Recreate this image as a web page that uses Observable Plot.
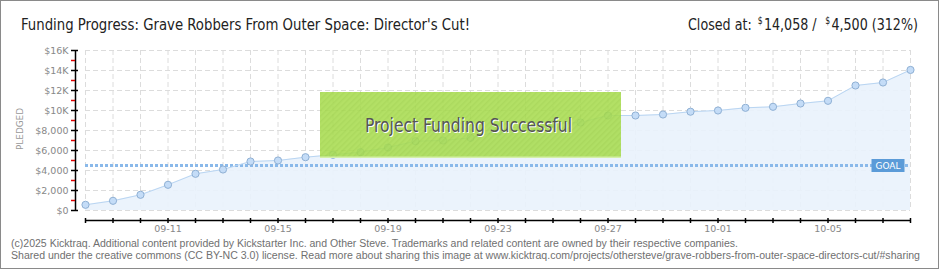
<!DOCTYPE html>
<html>
<head>
<meta charset="utf-8">
<script src="https://cdn.jsdelivr.net/npm/d3@7"></script>
<script src="https://cdn.jsdelivr.net/npm/@observablehq/plot@0.6"></script>
<style>
  html, body { margin: 0; padding: 0; background: #fff; }
  #wrap { position: relative; width: 940px; height: 270px; overflow: hidden; background: #fff; }
  #wrap > svg { position: absolute; left: 0; top: 0; }
  #frame { position: absolute; left: 0; top: 0; width: 937px; height: 267px; border: 1px solid #8a8a8a; pointer-events: none; }
</style>
</head>
<body>
<div id="wrap"><div id="frame"></div></div>
<script>
// ---- data ----
const days = ["09-08","09-09","09-10","09-11","09-12","09-13","09-14","09-15","09-16","09-17",
  "09-18","09-19","09-20","09-21","09-22","09-23","09-24","09-25","09-26","09-27",
  "09-28","09-29","09-30","10-01","10-02","10-03","10-04","10-05","10-06","10-07","10-08"];
const pledged = [570, 970, 1570, 2570, 3670, 4100, 4900, 5000, 5330, 5570,
  5830, 6300, 6930, 7000, 7270, 7900, 8600, 8700, 8800, 9500,
  9500, 9600, 9880, 10000, 10270, 10370, 10700, 10970, 12500, 12800, 14058];
const goal = 4500;
const xTickLabels = ["09-11","09-15","09-19","09-23","09-27","10-01","10-05"];
const yTicks = [0, 2000, 4000, 6000, 8000, 10000, 12000, 14000, 16000];
const yTickLabels = ["$0","$2,000","$4,000","$6,000","$8,000","$10K","$12K","$14K","$16K"];
const yMinorTicks = [1000, 3000, 5000, 7000, 9000, 11000, 13000, 15000];
const title = "Funding Progress: Grave Robbers From Outer Space: Director's Cut!";
const headerParts = ["Closed at:", "$", "14,058 /", "$", "4,500 (312%)"];
const footer1 = "(c)2025 Kicktraq. Additional content provided by Kickstarter Inc. and Other Steve. Trademarks and related content are owned by their respective companies.";
const footer2 = "Shared under the creative commons (CC BY-NC 3.0) license. Read more about sharing this image at www.kicktraq.com/projects/othersteve/grave-robbers-from-outer-space-directors-cut/#sharing";

// ---- build ----
const parse = s => new Date(Date.UTC(2025, +s.slice(0,2) - 1, +s.slice(3,5)));
const fmt = d3.utcFormat("%m-%d");
const rows = days.map((d, i) => ({date: parse(d), value: pledged[i]}));
const d0 = rows[0].date, dEnd = rows[rows.length - 1].date;
const yLabelMap = new Map(yTicks.map((v, i) => [v, yTickLabels[i]]));
const xLabelSet = new Set(xTickLabels);
const goalBox = { draw(ctx) { ctx.rect(-16.5, -6.5, 33, 13); } };
const tickFont = "DejaVu Sans, sans-serif";

const chart = Plot.plot({
  width: 940, height: 270,
  marginTop: 50, marginBottom: 60, marginLeft: 85, marginRight: 30,
  x: {type: "utc", domain: [d0, dEnd]},
  y: {domain: [0, 16000]},
  style: {background: "transparent", fontFamily: tickFont},
  marks: [
    Plot.gridY({ticks: yTicks, stroke: "#dcdcdc", strokeOpacity: 1, strokeDasharray: "5,3"}),
    Plot.gridX({ticks: rows.map(r => r.date), stroke: "#dcdcdc", strokeOpacity: 1, strokeDasharray: "5,3"}),
    Plot.areaY(rows, {x: "date", y: "value", fill: "#e9f2fc", fillOpacity: 0.9}),
    Plot.ruleY([goal], {stroke: "#8ab9ea", strokeWidth: 3, strokeDasharray: "3,2"}),
    Plot.line(rows, {x: "date", y: "value", stroke: "#b9d5f2", strokeWidth: 1}),
    Plot.dot(rows, {x: "date", y: "value", r: 3.6, fill: "#c4dcf7", stroke: "#8fb0d4", strokeWidth: 1}),
    Plot.dot([{x: dEnd, y: goal}], {x: "x", y: "y", symbol: goalBox, fill: "#5b9bd8", stroke: "none", dx: -22.5}),
    Plot.text([{x: dEnd, y: goal}], {x: "x", y: "y", text: () => "GOAL", dx: -22.5, dy: 0.5, fill: "#fff", fontSize: 9, fontFamily: tickFont}),
    // axes
    Plot.ruleY([0], {dy: 10, stroke: "#000", strokeWidth: 1.5}),
    Plot.ruleX([d0], {y1: 0, y2: 16000, dx: -10, stroke: "#000", strokeWidth: 1.5}),
    Plot.axisY({ticks: yMinorTicks, tickSize: 4, dx: -10, stroke: "#e00000", strokeWidth: 1.5,
      tickFormat: () => "", label: null}),
    Plot.axisY({ticks: yTicks, tickSize: 7, dx: -7, tickPadding: 3, stroke: "#000", strokeWidth: 1.5,
      fill: "#888", fontSize: 9.5, tickFormat: d => yLabelMap.get(d), label: null}),
    Plot.axisX({ticks: rows.map(r => r.date), tickSize: 5, dy: 8, tickPadding: 2, stroke: "#000", strokeWidth: 1.5,
      fill: "#888", fontSize: 9.5, tickFormat: d => xLabelSet.has(fmt(d)) ? fmt(d) : "", label: null})
  ]
});
const wrap = document.getElementById("wrap");
wrap.insertBefore(chart, wrap.firstChild);

// ---- overlay text (title, header, banner, footer) ----
const ov = d3.select(wrap).append("svg").attr("width", 940).attr("height", 270)
  .style("pointer-events", "none");
const defs = ov.append("defs");
const pat = defs.append("pattern").attr("id", "stripes").attr("width", 4).attr("height", 4)
  .attr("patternUnits", "userSpaceOnUse").attr("patternTransform", "rotate(45)");
pat.append("rect").attr("width", 4).attr("height", 4).attr("fill", "#a8dc50");
pat.append("rect").attr("width", 1.5).attr("height", 4).attr("fill", "#a0d448");

const headFont = "'Liberation Sans Narrow', 'DejaVu Sans Condensed', 'Roboto Condensed', 'Liberation Sans', sans-serif";

ov.append("text").attr("x", 21).attr("y", 30).attr("font-family", headFont).attr("font-size", 16.5)
  .attr("fill", "#222").attr("textLength", 449).attr("lengthAdjust", "spacingAndGlyphs").text(title);

// header: pieces laid out in a row, one uniform horizontal scale to fit 688..918
const specs = [
  {size: 16.5, dy: 0, gap: 7},
  {size: 10, dy: -6, gap: 1.5},
  {size: 16.5, dy: 0, gap: 10},
  {size: 10, dy: -6, gap: 1.5},
  {size: 16.5, dy: 0, gap: 0}
];
const hg = ov.append("g");
let cx = 0;
const pieces = headerParts.map((t, i) => {
  const el = hg.append("text").attr("y", specs[i].dy).attr("font-family", headFont)
    .attr("font-size", specs[i].size).attr("fill", "#222").text(t);
  const w = el.node().getComputedTextLength();
  el.attr("x", cx);
  cx += w + specs[i].gap;
  return el;
});
const sx = 230 / cx;
hg.attr("transform", `translate(688,30) scale(${sx},1)`);

ov.append("text").attr("transform", "translate(23,129) rotate(-90)").attr("text-anchor", "middle")
  .attr("font-family", tickFont).attr("font-size", 9).attr("fill", "#999")
  .attr("textLength", 42).attr("lengthAdjust", "spacingAndGlyphs").text("PLEDGED");

// success banner
ov.append("rect").attr("x", 320).attr("y", 92).attr("width", 301).attr("height", 66)
  .attr("fill", "url(#stripes)").attr("fill-opacity", 0.88);
ov.append("rect").attr("x", 320).attr("y", 156.5).attr("width", 301).attr("height", 1.5)
  .attr("fill", "#d4f0a8");
ov.append("text").attr("x", 366).attr("y", 132.5).attr("font-family", headFont).attr("font-size", 19)
  .attr("fill", "#fff").attr("textLength", 207).attr("lengthAdjust", "spacingAndGlyphs")
  .text("Project Funding Successful");
ov.append("text").attr("x", 365).attr("y", 131.5).attr("font-family", headFont).attr("font-size", 19)
  .attr("fill", "#555").attr("textLength", 207).attr("lengthAdjust", "spacingAndGlyphs")
  .text("Project Funding Successful");

// footer
ov.append("text").attr("x", 11).attr("y", 247).attr("font-family", "'Liberation Sans', sans-serif")
  .attr("font-size", 10).attr("fill", "#707070").attr("textLength", 727).attr("lengthAdjust", "spacingAndGlyphs")
  .text(footer1);
ov.append("text").attr("x", 11).attr("y", 259).attr("font-family", "'Liberation Sans', sans-serif")
  .attr("font-size", 10).attr("fill", "#707070").attr("textLength", 909).attr("lengthAdjust", "spacingAndGlyphs")
  .text(footer2);
</script>
</body>
</html>
